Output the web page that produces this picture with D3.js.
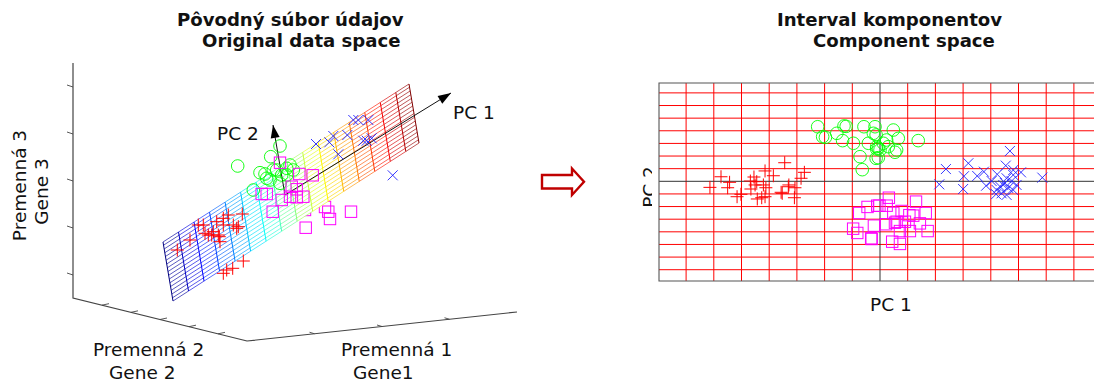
<!DOCTYPE html>
<html>
<head>
<meta charset="utf-8">
<script src="https://cdn.jsdelivr.net/npm/d3@7"></script>
<style>
  html, body { margin: 0; padding: 0; background: #fff; }
  svg { display: block; }
  text { font-family: "DejaVu Sans", Verdana, sans-serif; fill: #111; }
  .title { font-weight: bold; font-size: 18.1px; }
  .lab { font-size: 18.5px; }
</style>
</head>
<body>
<svg id="chart" width="1094" height="382"></svg>
<script>
// right panel: scores on PC1 / PC2, one unit = one grid cell
const pc1Ticks = [-7, -6, -5, -4, -3, -2, -1, 1, 2, 3, 4, 5, 6, 7];
const pc2Ticks = [-7, -6, -5, -4, -3, -2, -1, 1, 2, 3, 4, 5, 6, 7];

const redScores = [[-3.44,1.47],[-2.73,.71],[-2.85,.24],[-4.15,.82],[-3.85,.44],[-5.74,.36],[-5.43,-.08],[-6.14,-.48],[-5.5,-.51],[-4.55,.34],[-4.68,.02],[-4.51,-.29],[-4.66,-.61],[-4.21,-.29],[-4.12,-.51],[-5.16,-1.22],[-5.02,-1.03],[-4.43,-1.4],[-4.27,-1.3],[-4.15,-1.22],[-3.57,-.87],[-3.53,-.95],[-3.29,-.29],[-3.31,-.43],[-3.07,-.51],[-3.09,-1.3],[-4.45,-.03]];
const greenScores = [[-2.25,4.32],[-1.56,3.8],[-1.3,4.38],[-1.22,4.35],[-.58,4.32],[-.18,4.32],[-2.07,3.53],[-1.97,3.48],[-1.35,3.22],[-.96,3.01],[-.42,3.01],[-.14,3.67],[-.72,1.95],[-.64,.92],[-.12,2.56],[-.14,1.82],[.48,4.06],[.66,3.4],[1.38,3.22],[.24,3.27],[-.06,2.61],[0,2.48],[-.06,1.87],[.54,2.3],[-.12,2.74],[.3,2.74],[.12,3.01],[-.24,3.8],[.6,2.48]];
const magentaScores = [[-.45,-2.03],[-.75,-2.51],[-.1,-1.93],[-.97,-3.75],[-.82,-4.09],[-.22,-3.51],[-.32,-4.51],[-.3,-4.57],[.32,-1.3],[-.02,-1.93],[.24,-1.93],[.78,-2.35],[1.3,-1.61],[1.65,-2.51],[1.2,-2.72],[1.06,-2.68],[.22,-3.4],[.54,-3.28],[.6,-3.2],[1.08,-3.94],[1.72,-3.94],[.72,-3.94],[1.44,-3.33],[.44,-4.78],[.72,-4.96],[.48,-2.5],[.9,-3.2]];
const blueScores = [[4.69,2.4],[2.38,.97],[3.19,1.43],[3.03,.4],[2.14,-.24],[3,-.61],[3.51,.42],[3.75,.76],[3.83,-.35],[4.54,1.24],[4.81,.89],[5.09,.71],[4.23,.55],[5.86,.29],[4.57,.24],[4.75,.02],[4.81,.5],[4.45,-.29],[4.21,-.69],[4.39,-.95],[4.57,-1.08],[4.19,-1.02],[4.81,-.69],[4.63,-.53],[4.33,-.41],[4.51,-.14],[4.93,-.29],[4.03,.02]];

// left panel: where each sample lands in the 3D view
const redView = [[107.3,48],[120,58],[128.3,73],[133.3,73],[158.3,83],[172.3,84],[146.7,76.3],[153.3,79.7],[153.3,73],[163.3,73],[168.3,71.3],[166.7,69.7],[135,64.7],[138.3,63],[143.3,66.3],[141.7,63],[148.3,63],[150,56.3],[149.3,61.3],[173.3,37],[162.7,29.7],[156.7,28]];
const redBehind = [[153.3,24.7]];
const blueView = [[246,154],[259.3,155.7],[263.3,162],[277.3,163],[268.3,143.7],[283.3,178],[288.3,178],[298.3,178],[293.3,157.3],[301.7,159.7],[296.7,157.3],[322.7,122.7]];
const magentaView = [[210,135.3],[229.3,124],[242.7,122.7],[191.7,104],[196.7,104],[221.7,111.3],[226.7,108.7],[220,101.3],[226.7,100.7],[233.3,101.3],[211.7,98],[202.7,86.3],[258.3,86.3],[281,86.3],[260,79],[235.7,70.3]];
const magentaBehind = [[235,88],[255,91]];
const greenView = [[167.7,132],[210,152],[200.7,141.3],[190,125.3],[195,124],[200,118],[206.7,128],[216.7,123],[211.7,123],[203.3,128],[183.3,108],[223.3,128],[220,133],[196.7,119.7],[210,114.7],[216.7,129.7]];
const greenBehind = [[245,141.3]];

// plane corners and PC directions in the same view units
const planeOrigin = [103, -3];
const planeAlong = [246, 158];
const planeAcross = [-10, 59];
const pc1Arrow = [[215, 103], [381, 205]];
const pc2Arrow = [[215, 103], [203, 173]];

const gene3Ticks = [1, 2, 3, 4, 5];
const gene2Ticks = [1, 2, 3, 4, 5];
const gene1Ticks = [1, 2, 3];

const jetStops = ['#00007f', '#0000ff', '#0080ff', '#00ffff', '#80ff80', '#ffff00', '#ff8000', '#ff0000', '#7f0000'];

const svg = d3.select('#chart');

// ---- left panel
const vx = d3.scaleLinear().domain([0, 450]).range([70, 520]);
const vy = d3.scaleLinear().domain([0, 240]).range([298, 58]);
const pt = d => [vx(d[0]), vy(d[1])];

const planeA = d3.scaleLinear().domain([-8, 7.85]).range([0, 1]);
const planeB = d3.scaleLinear().domain([-7.85, 7.85]).range([0, 1]);
const onPlane = (a, b) => pt([
  planeOrigin[0] + planeAlong[0] * planeA(a) + planeAcross[0] * planeB(b),
  planeOrigin[1] + planeAlong[1] * planeA(a) + planeAcross[1] * planeB(b)
]);
const jet = d3.scaleLinear()
  .domain(jetStops.map((c, i) => -8 + 15.85 * i / (jetStops.length - 1)))
  .range(jetStops);

function crossMark(sel, pts, x, y, c) {
  sel.selectAll(null).data(pts).join('path')
    .attr('d', d => `M${x(d) - 6.5},${y(d)}h13M${x(d)},${y(d) - 6.5}v13`)
    .attr('stroke', c).attr('stroke-width', 1).attr('fill', 'none');
}
function xMark(sel, pts, x, y, c) {
  sel.selectAll(null).data(pts).join('path')
    .attr('d', d => `M${x(d) - 5},${y(d) - 5}l10,10M${x(d) - 5},${y(d) + 5}l10,-10`)
    .attr('stroke', c).attr('stroke-width', 0.9).attr('fill', 'none');
}
function circleMark(sel, pts, x, y, c) {
  sel.selectAll(null).data(pts).join('circle')
    .attr('cx', x).attr('cy', y).attr('r', 6.3)
    .attr('stroke', c).attr('stroke-width', 0.9).attr('fill', 'none');
}
function squareMark(sel, pts, x, y, c) {
  sel.selectAll(null).data(pts).join('rect')
    .attr('x', d => x(d) - 5.7).attr('y', d => y(d) - 5.7)
    .attr('width', 11.4).attr('height', 11.4)
    .attr('stroke', c).attr('stroke-width', 1).attr('fill', 'none');
}

const left = svg.append('g');
const lx = d => vx(d[0]), ly = d => vy(d[1]);

// samples under the sheet get covered by its white cells
const under = left.append('g');
circleMark(under, greenBehind, lx, ly, '#00ff00');
squareMark(under, magentaBehind, lx, ly, '#ff00ff');
crossMark(under, redBehind, lx, ly, '#ff0000');

const aEdges = [-8, ...pc1Ticks.filter(d => d < 0), 0, ...pc1Ticks.filter(d => d > 0), 7.85];
const bEdges = [-7.85, ...pc2Ticks.filter(d => d < 0), 0, ...pc2Ticks.filter(d => d > 0), 7.85];

const sheetCorners = [onPlane(-8, -7.85), onPlane(7.85, -7.85), onPlane(7.85, 7.85), onPlane(-8, 7.85)];
left.append('polygon').attr('points', sheetCorners.join(' ')).attr('fill', '#fff');

// long lines are thin, cross lines heavier
const mesh = left.append('g').attr('fill', 'none');
d3.pairs(aEdges).forEach(([a0, a1]) => {
  bEdges.forEach(b => {
    mesh.append('line')
      .attr('x1', onPlane(a0, b)[0]).attr('y1', onPlane(a0, b)[1])
      .attr('x2', onPlane(a1, b)[0]).attr('y2', onPlane(a1, b)[1])
      .attr('stroke', jet((a0 + a1) / 2)).attr('stroke-width', 0.65);
  });
});
aEdges.forEach(a => {
  mesh.append('line')
    .attr('x1', onPlane(a, -7.85)[0]).attr('y1', onPlane(a, -7.85)[1])
    .attr('x2', onPlane(a, 7.85)[0]).attr('y2', onPlane(a, 7.85)[1])
    .attr('stroke', jet(a)).attr('stroke-width', 1);
});

// PC arrows
const lineGen = d3.line().x(lx).y(ly);
function pcArrow(seg) {
  left.append('path').attr('d', lineGen(seg)).attr('stroke', '#111').attr('stroke-width', 1).attr('fill', 'none');
  const [x0, y0] = pt(seg[0]), [x1, y1] = pt(seg[1]);
  const ang = Math.atan2(y1 - y0, x1 - x0) * 180 / Math.PI;
  left.append('path').attr('d', 'M0,0L-13,-4.5L-13,4.5Z').attr('fill', '#000')
    .attr('transform', `translate(${x1},${y1}) rotate(${ang})`);
}
pcArrow(pc1Arrow);
pcArrow(pc2Arrow);

const over = left.append('g');
circleMark(over, greenView, lx, ly, '#00ff00');
squareMark(over, magentaView, lx, ly, '#ff00ff');
crossMark(over, redView, lx, ly, '#ff0000');
xMark(over, blueView, lx, ly, '#2020ff');

// box axes
const axisLine = left.append('g').attr('stroke', '#444').attr('fill', 'none');
const gene3 = d3.scaleLinear().domain([0, 6]).range([321, 39]);
axisLine.append('path').attr('d', `M73,63V298L247,341L517,312`).attr('stroke-width', 1.2);
axisLine.selectAll('.t3').data(gene3Ticks).join('path')
  .attr('d', d => `M67,${gene3(d) - 1}L73,${gene3(d) + 1}`).attr('stroke-width', 0.9);
const gene2 = d3.scaleLinear().domain([0, 6]).range([0, 1]);
axisLine.selectAll('.t2').data(gene2Ticks).join('path')
  .attr('d', d => {
    const t = gene2(d), x = 73 + 174 * t, y = 298 + 43 * t;
    return `M${x},${y}l7,-1.5`;
  }).attr('stroke-width', 0.9);
const gene1 = d3.scaleLinear().domain([0, 4]).range([0, 1]);
axisLine.selectAll('.t1').data(gene1Ticks).join('path')
  .attr('d', d => {
    const t = gene1(d), x = 247 + 270 * t, y = 341 - 29 * t;
    return `M${x},${y}l-5,-1.5`;
  }).attr('stroke-width', 0.9);

// ---- right panel
const px = d3.scaleLinear().domain([-1, 1]).range([880 - 27.7, 880 + 27.7]);
const py = d3.scaleLinear().domain([-1, 1]).range([181.3 + 12.63, 181.3 - 12.63]);
const right = svg.append('g');
const [T, B, L, R] = [83, 281, 659, 1094];

right.selectAll('.gv').data(pc1Ticks).join('line')
  .attr('x1', px).attr('x2', px).attr('y1', T).attr('y2', B)
  .attr('stroke', '#ff0000').attr('stroke-width', 1);
right.selectAll('.gh').data(pc2Ticks).join('line')
  .attr('x1', L).attr('x2', R).attr('y1', py).attr('y2', py)
  .attr('stroke', '#ff0000').attr('stroke-width', 1);
right.append('line').attr('x1', px(0)).attr('x2', px(0)).attr('y1', T).attr('y2', B).attr('stroke', '#333').attr('stroke-width', 1);
right.append('line').attr('x1', L).attr('x2', R).attr('y1', py(0)).attr('y2', py(0)).attr('stroke', '#333').attr('stroke-width', 1);
right.append('path').attr('d', `M${R},${T}H${L}V${B}H${R}`).attr('fill', 'none').attr('stroke', '#555').attr('stroke-width', 1.1);

const sx = d => px(d[0]), sy = d => py(d[1]);
circleMark(right, greenScores, sx, sy, '#00ff00');
squareMark(right, magentaScores, sx, sy, '#ff00ff');
crossMark(right, redScores, sx, sy, '#ff0000');
xMark(right, blueScores, sx, sy, '#2020ff');

// ---- arrow between the panels
const bigArrow = [[542, 175], [572, 175], [572, 168.5], [584, 181.7], [572, 195], [572, 188.5], [542, 188.5]];
svg.append('path').attr('d', d3.line()(bigArrow) + 'Z')
  .attr('fill', '#fff').attr('stroke', '#c00000').attr('stroke-width', 2.4);

// ---- text
const txt = (x, y, s, cls) => svg.append('text').attr('x', x).attr('y', y).attr('class', cls).text(s);
txt(177, 26, 'Pôvodný súbor údajov', 'title');
txt(202, 47, 'Original data space', 'title');
txt(777, 26, 'Interval komponentov', 'title');
txt(813, 47, 'Component space', 'title');
txt(453, 119, 'PC 1', 'lab');
txt(217, 140, 'PC 2', 'lab');
txt(93, 356, 'Premenná 2', 'lab');
txt(109, 379, 'Gene 2', 'lab');
txt(341, 356, 'Premenná 1', 'lab');
txt(353, 379, 'Gene1', 'lab');
txt(870, 311, 'PC 1', 'lab');

const rot = (x, y, s) => svg.append('text').attr('transform', `translate(${x},${y}) rotate(-90)`).attr('class', 'lab').attr('text-anchor', 'middle').text(s);
rot(26, 185.5, 'Premenná 3');
rot(48, 191.5, 'Gene 3');

// the PC 2 label is cut off by the plot frame
svg.append('clipPath').attr('id', 'pc2clip').append('rect').attr('x', 630).attr('y', 150).attr('width', 22).attr('height', 80);
svg.append('g').attr('clip-path', 'url(#pc2clip)')
  .append('text').attr('transform', 'translate(656,187) rotate(-90)').attr('class', 'lab')
  .attr('text-anchor', 'middle').text('PC 2');
</script>
</body>
</html>
